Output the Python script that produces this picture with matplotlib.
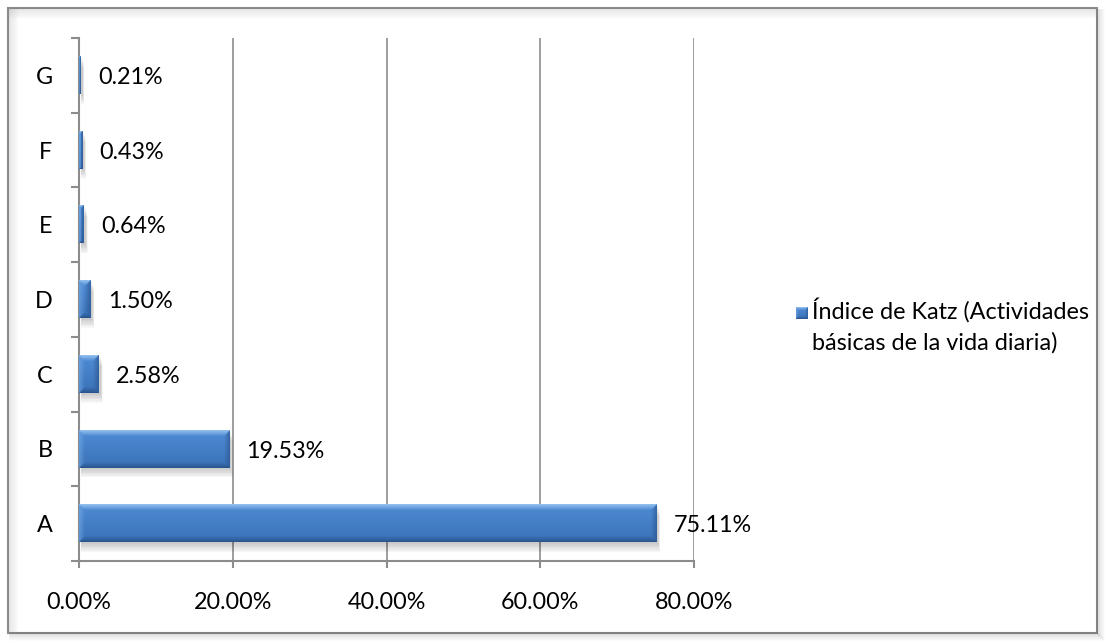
import matplotlib
matplotlib.use("Agg")
import matplotlib.pyplot as plt
import numpy as np
from matplotlib.patches import Rectangle
from matplotlib.colors import to_rgb
import matplotlib.ticker as mticker

categories = ["A", "B", "C", "D", "E", "F", "G"]
values = [75.11, 19.53, 2.58, 1.50, 0.64, 0.43, 0.21]
value_labels = ["75.11%", "19.53%", "2.58%", "1.50%", "0.64%", "0.43%", "0.21%"]
xticks = [0, 20, 40, 60, 80]
xtick_labels = ["0.00%", "20.00%", "40.00%", "60.00%", "80.00%"]
legend_label = "Índice de Katz (Actividades\nbásicas de la vida diaria)"

plt.rcParams['font.family'] = ['Lato', 'DejaVu Sans']
FS = 16.8

W, H = 1105, 641
fig = plt.figure(figsize=(W / 100, H / 100), dpi=100)
fig.patch.set_facecolor("white")

# Frame with shadow
bg = fig.add_axes([0, 0, 1, 1])
bg.set_xlim(0, W)
bg.set_ylim(H, 0)
bg.axis("off")
for i in range(10):
    a = 0.09 * (1 - i / 10)
    bg.plot([9 + i, 9 + i], [9, H - 9], color=(0.35, 0.35, 0.35, a), lw=1.2, solid_capstyle="butt")
    bg.plot([9, W - 9], [9 + i, 9 + i], color=(0.35, 0.35, 0.35, a), lw=1.2, solid_capstyle="butt")
for i in range(8):
    a = 0.12 * (1 - i / 8)
    bg.plot([W - 8 + i, W - 8 + i], [10, H - 8 + i], color=(0.3, 0.3, 0.3, a), lw=1.2)
    bg.plot([10, W - 8 + i], [H - 8 + i, H - 8 + i], color=(0.3, 0.3, 0.3, a), lw=1.2)
bg.add_patch(Rectangle((8, 8), W - 16, H - 16, fill=False, edgecolor="#8c8c8c", lw=1.5))

ax_l, ax_r, ax_t, ax_b = 79, 694, 38, 561
ax = fig.add_axes([ax_l / W, 1 - ax_b / H, (ax_r - ax_l) / W, (ax_b - ax_t) / H])
ax.set_facecolor("none")
ax.set_xlim(0, 80)
ax.set_ylim(-0.5, len(categories) - 0.5)
y = np.arange(len(categories))
bars = ax.barh(y, values, height=0.5, color="none", edgecolor="none", zorder=3)

sx = (ax_r - ax_l) / 80.0
sy = (ax_b - ax_t) / len(categories)

body_top = np.array(to_rgb("#4f8cd5"))
body_bot = np.array(to_rgb("#3a71b6"))
c_top = np.array(to_rgb("#a3cdf6"))
c_bot = np.array(to_rgb("#22497c"))
c_left = np.array(to_rgb("#7cb0ec"))
c_right = np.array(to_rgb("#27518a"))
BEV = 6.0
RES = 3

def bevel_image(wpx, hpx, bev=BEV):
    nx = max(int(round(wpx * RES)), 1)
    ny = max(int(round(hpx * RES)), 1)
    ii = (np.arange(nx) + 0.5) / RES
    jj = (np.arange(ny) + 0.5) / RES
    I, J = np.meshgrid(ii, jj)
    dt = J
    db = hpx - J
    dl = I
    dr = wpx - I
    t = (J / hpx)[..., None]
    img = body_top * (1 - t) + body_bot * t
    d = np.stack([dt, db, dl, dr], axis=0)
    which = np.argmin(d, axis=0)
    m = np.min(d, axis=0)
    wgt = np.clip(1 - m / bev, 0, 1)[..., None]
    cols = [c_top, c_bot, c_left, c_right]
    strength = [0.85, 0.75, 0.55, 0.65]
    for k in range(4):
        mask = (which == k)[..., None]
        blend = img * (1 - wgt * strength[k]) + cols[k] * (wgt * strength[k])
        img = np.where(mask, blend, img)
    return np.clip(img, 0, 1)

for b in bars:
    x0, y0, w, h = b.get_x(), b.get_y(), b.get_width(), b.get_height()
    for k in range(6):
        ax.add_patch(Rectangle((x0 + 0.25, y0 - (k + 1) * 0.022), w + 0.05 * k, h,
                               facecolor=(0, 0, 0, 0.035), edgecolor="none", zorder=2))
    img = bevel_image(w * sx, h * sy)
    ax.imshow(img, extent=(x0, x0 + w, y0, y0 + h), aspect="auto", zorder=3.5,
              origin="upper", interpolation="bilinear")
for b, lab in zip(bars, value_labels):
    ax.annotate(lab, (b.get_width(), b.get_y() + b.get_height() / 2), xytext=(12.5, -1.5),
                textcoords="offset points", va="center", ha="left", fontsize=FS, zorder=5)

ax.set_xlim(0, 80)
ax.set_ylim(-0.5, len(categories) - 0.5)
ax.set_xticks(xticks)
ax.set_xticklabels(xtick_labels, fontsize=FS)
ax.set_yticks(y)
ax.set_yticklabels(categories, fontsize=FS)
ax.yaxis.set_minor_locator(mticker.FixedLocator(np.arange(-0.5, len(categories), 1)))
ax.tick_params(axis="y", which="major", length=0, pad=19)
ax.tick_params(axis="y", which="minor", length=6, color="#8c8c8c", width=1.5)
ax.tick_params(axis="x", which="major", length=5, color="#8c8c8c", width=1.5, pad=17)
ax.xaxis.grid(True, color="#8c8c8c", lw=1.2, zorder=0)
ax.set_axisbelow(True)
for s in ["top", "right"]:
    ax.spines[s].set_visible(False)
for s in ["left", "bottom"]:
    ax.spines[s].set_color("#8c8c8c")
    ax.spines[s].set_linewidth(1.5)
    ax.spines[s].set_zorder(2.5)

# legend
lg = bevel_image(12, 12, bev=3.0)
bg.imshow(lg, extent=(796, 808, 319, 307), aspect="auto", interpolation="bilinear", zorder=3)
bg.set_xlim(0, W)
bg.set_ylim(H, 0)
bg.text(812, 298, legend_label, fontsize=FS, va="top", ha="left", linespacing=1.52)

fig.savefig("out.png", dpi=100, facecolor="white")
